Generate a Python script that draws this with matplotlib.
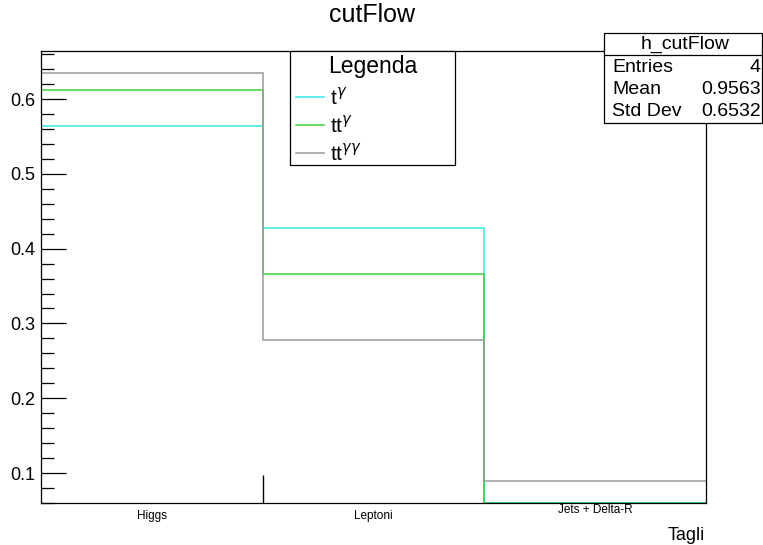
import matplotlib
matplotlib.use("Agg")
import matplotlib.pyplot as plt
from matplotlib.lines import Line2D
from matplotlib.patches import Rectangle
from matplotlib.ticker import MultipleLocator

plt.rcParams['font.family'] = ['Liberation Sans', 'DejaVu Sans']

# data
categories = ['Higgs', 'Leptoni', 'Jets + Delta-R']
edges = [0, 1, 2, 3]
t_gamma = [0.564, 0.428, 0.06]
tt_gamma = [0.612, 0.366, 0.06]
tt_gamma_gamma = [0.635, 0.278, 0.089]
legend_labels = [r't$^{\gamma}$', r'tt$^{\gamma}$', r'tt$^{\gamma\gamma}$']
colors = ['#33e8e8', '#3dd13d', '#9a9a9a']
stats = [('Entries', '4'), ('Mean', '0.9563'), ('Std Dev', '0.6532')]

W, H = 763, 545
fig = plt.figure(figsize=(W / 100, H / 100), dpi=100)

def fx(px):
    return px / W

def fy(py):
    return 1 - py / H

ax = fig.add_axes([fx(41), fy(503), fx(706) - fx(41), fy(51) - fy(503)])

for vals, c in zip([t_gamma, tt_gamma, tt_gamma_gamma], colors):
    ax.stairs(vals, edges, color=c, lw=1.1, baseline=None)

ax.set_xlim(0, 3)
ax.set_ylim(0.06, 0.6642)

for s in ax.spines.values():
    s.set_linewidth(0.9)

ax.yaxis.set_major_locator(MultipleLocator(0.1))
ax.yaxis.set_minor_locator(MultipleLocator(0.02))
ax.tick_params(axis='y', which='major', direction='in', length=18, width=0.9,
               labelsize=13, pad=4)
ax.tick_params(axis='y', which='minor', direction='in', length=9, width=0.9)
ax.set_yticks([0.1, 0.2, 0.3, 0.4, 0.5, 0.6])
ax.set_yticklabels(['0.1', '0.2', '0.3', '0.4', '0.5', '0.6'])

ax.set_xticks([1])
ax.set_xticklabels([''])
ax.tick_params(axis='x', which='major', direction='in', length=20, width=1)

for i, lab in enumerate(categories):
    yoff = -0.028 if i < 2 else -0.016
    ax.text(i + 0.5, yoff, lab, transform=ax.get_xaxis_transform(),
            ha='center', va='center', fontsize=8.5)

fig.text(fx(705), fy(535), 'Tagli', ha='right', va='center', fontsize=13)
fig.text(fx(372), fy(15), 'cutFlow', ha='center', va='center', fontsize=18)

# legend box
fig.patches.append(Rectangle((fx(290), fy(165)), fx(455) - fx(290), fy(51) - fy(165),
                             transform=fig.transFigure, fill=True, facecolor='white',
                             edgecolor='black', lw=0.9, zorder=5))
fig.text(fx(373), fy(66), 'Legenda', ha='center', va='center', fontsize=16.5, zorder=6)
for i, (lab, c) in enumerate(zip(legend_labels, colors)):
    yy = fy(97 + i * 28)
    fig.add_artist(Line2D([fx(296), fx(324)], [yy, yy], color=c, lw=1.1,
                          transform=fig.transFigure, zorder=6))
    fig.text(fx(330), yy, lab, ha='left', va='center', fontsize=15, zorder=6)

# stats box
fig.patches.append(Rectangle((fx(604), fy(123)), fx(762) - fx(604), fy(33) - fy(123),
                             transform=fig.transFigure, fill=True, facecolor='white',
                             edgecolor='black', lw=0.9, zorder=5))
fig.add_artist(Line2D([fx(604), fx(762)], [fy(55), fy(55)], color='black', lw=0.9,
                      transform=fig.transFigure, zorder=6))
fig.text(fx(685), fy(44), 'h_cutFlow', ha='center', va='center', fontsize=14, zorder=6)
for i, (name, val) in enumerate(stats):
    yy = fy(67 + i * 22)
    fig.text(fx(612), yy, name, ha='left', va='center', fontsize=14, zorder=6)
    fig.text(fx(761), yy, val, ha='right', va='center', fontsize=14, zorder=6)

fig.savefig('out.png', dpi=100)
